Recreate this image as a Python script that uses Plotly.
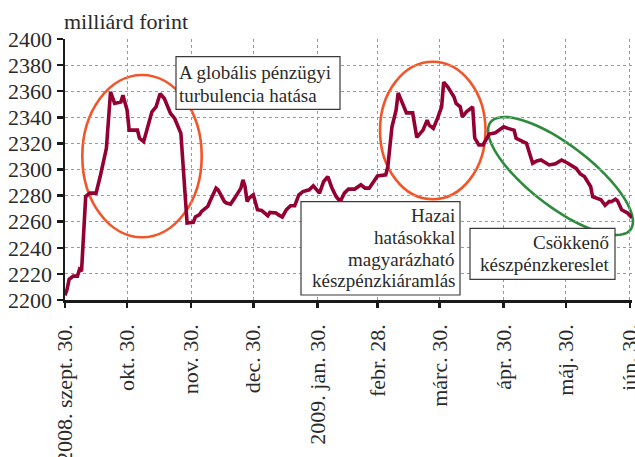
import math
import plotly.graph_objects as go

# ---------------- data ----------------
dates = [
    '2008-09-30', '2008-10-01', '2008-10-02', '2008-10-04', '2008-10-06', '2008-10-07', '2008-10-08',
    '2008-10-10', '2008-10-12', '2008-10-15', '2008-10-17', '2008-10-20', '2008-10-22', '2008-10-24',
    '2008-10-27', '2008-10-28', '2008-10-30', '2008-10-31', '2008-11-04', '2008-11-05', '2008-11-07',
    '2008-11-11', '2008-11-13', '2008-11-15', '2008-11-17', '2008-11-20', '2008-11-22', '2008-11-25',
    '2008-11-28', '2008-12-01', '2008-12-02', '2008-12-04', '2008-12-05', '2008-12-08', '2008-12-09',
    '2008-12-12', '2008-12-13', '2008-12-16', '2008-12-17', '2008-12-19', '2008-12-21', '2008-12-24',
    '2008-12-25', '2008-12-26', '2008-12-27', '2008-12-28', '2008-12-30', '2008-12-31', '2009-01-01',
    '2009-01-03', '2009-01-06', '2009-01-07', '2009-01-10', '2009-01-11', '2009-01-13', '2009-01-15',
    '2009-01-17', '2009-01-19', '2009-01-21', '2009-01-23', '2009-01-26', '2009-01-28', '2009-01-29',
    '2009-01-31', '2009-02-02', '2009-02-04', '2009-02-06', '2009-02-08', '2009-02-10', '2009-02-12',
    '2009-02-14', '2009-02-17', '2009-02-20', '2009-02-22', '2009-02-24', '2009-02-27', '2009-02-28',
    '2009-03-04', '2009-03-05', '2009-03-07', '2009-03-09', '2009-03-10', '2009-03-12', '2009-03-14',
    '2009-03-17', '2009-03-19', '2009-03-22', '2009-03-24', '2009-03-25', '2009-03-27', '2009-03-29',
    '2009-03-31', '2009-04-01', '2009-04-03', '2009-04-06', '2009-04-07', '2009-04-09', '2009-04-10',
    '2009-04-12', '2009-04-15', '2009-04-16', '2009-04-18', '2009-04-20', '2009-04-22', '2009-04-23',
    '2009-04-26', '2009-04-28', '2009-04-30', '2009-05-02', '2009-05-05', '2009-05-06', '2009-05-09',
    '2009-05-11', '2009-05-14', '2009-05-16', '2009-05-18', '2009-05-21', '2009-05-22', '2009-05-25',
    '2009-05-28', '2009-05-31', '2009-06-04', '2009-06-06', '2009-06-08', '2009-06-11', '2009-06-12',
    '2009-06-16', '2009-06-18', '2009-06-20', '2009-06-21', '2009-06-23', '2009-06-24', '2009-06-26',
    '2009-06-29', '2009-07-01',
]
values = [
    2203.6, 2208.2, 2215.8, 2218.3, 2218.3, 2223.4, 2222.1,
    2279.3, 2281.9, 2281.9, 2294.6, 2316.2, 2359.4, 2350.6,
    2351.8, 2356.9, 2345.5, 2330.2, 2330.2, 2323.9, 2321.3,
    2344.2, 2348.0, 2358.2, 2354.4, 2342.9, 2339.1, 2327.7,
    2259.0, 2259.5, 2263.6, 2265.4, 2267.9, 2271.7, 2275.5,
    2285.7, 2284.4, 2275.5, 2274.3, 2273.5, 2278.1, 2285.7,
    2292.1, 2287.0, 2275.5, 2278.1, 2280.6, 2274.3, 2269.2,
    2268.7, 2264.6, 2267.1, 2266.7, 2265.4, 2263.6, 2269.2,
    2272.2, 2272.2, 2280.6, 2283.1, 2284.4, 2287.5, 2285.7,
    2281.9, 2290.8, 2294.6, 2285.7, 2279.3, 2275.5, 2281.9,
    2285.0, 2285.0, 2288.3, 2285.7, 2285.7, 2293.4, 2295.1,
    2295.9, 2302.2, 2332.7, 2345.5, 2358.7, 2351.8, 2343.4,
    2343.4, 2324.6, 2330.2, 2337.8, 2334.0, 2331.5, 2339.1,
    2348.0, 2367.0, 2363.2, 2355.6, 2350.6, 2348.0, 2340.4,
    2344.2, 2348.0, 2324.1, 2318.8, 2318.8, 2323.9, 2327.2,
    2328.1, 2330.7, 2332.7, 2331.5, 2330.2, 2323.9, 2321.8,
    2320.1, 2304.8, 2306.6, 2307.3, 2305.0, 2303.5, 2304.3,
    2307.3, 2304.8, 2300.8, 2296.6, 2294.6, 2287.0, 2279.1,
    2276.8, 2272.6, 2275.5, 2275.3, 2277.2, 2276.0, 2269.2,
    2266.5, 2263.0,
]

tick_dates = ['2008-09-30', '2008-10-30', '2008-11-30', '2008-12-30', '2009-01-30',
              '2009-02-28', '2009-03-30', '2009-04-30', '2009-05-30', '2009-06-30']
tick_labels = ['2008. szept. 30.', 'okt. 30.', 'nov. 30.', 'dec. 30.', '2009. jan. 30.',
               'febr. 28.', 'márc. 30.', 'ápr. 30.', 'máj. 30.', 'jún. 30.']
y_ticks = [2200, 2220, 2240, 2260, 2280, 2300, 2320, 2340, 2360, 2380, 2400]

unit_label = 'milliárd forint'
box1_lines = ['A globális pénzügyi', 'turbulencia hatása']
box2_lines = ['Hazai', 'hatásokkal', 'magyarázható', 'készpénzkiáramlás']
box3_lines = ['Csökkenő', 'készpénzkereslet']

# ---------------- layout geometry ----------------
W, H = 635, 457
PLOT_L, PLOT_T, PLOT_W, PLOT_H = 65, 39, 567, 261   # window pixels
ML = PLOT_L
MT = PLOT_T
MR = W - ML - PLOT_W
MB = H - MT - PLOT_H
FONT = 'Liberation Serif'
TEXT = '#2a2a2a'
LINE_RED = '#940032'
ORANGE = '#F0562A'
GREEN = '#2E8B3E'


def fx(px):
    return (px - PLOT_L) / PLOT_W


def fy(py):
    return (PLOT_T + PLOT_H - py) / PLOT_H


def ellipse_path(cx, cy, a, b, deg, n=90):
    th = math.radians(deg)
    pts = []
    for i in range(n):
        t = 2 * math.pi * i / n
        x = cx + a * math.cos(t) * math.cos(th) - b * math.sin(t) * math.sin(th)
        y = cy + a * math.cos(t) * math.sin(th) + b * math.sin(t) * math.cos(th)
        pts.append(f'{fx(x):.5f},{fy(y):.5f}')
    return 'M ' + ' L '.join(pts) + ' Z'


fig = go.Figure()
fig.add_trace(go.Scatter(
    x=dates, y=values, mode='lines',
    line=dict(color=LINE_RED, width=3.6),
    hoverinfo='skip', showlegend=False,
))

shapes = []
shapes.append(dict(type='circle', xref='paper', yref='paper',
                   x0=fx(82.3), x1=fx(201.7), y0=fy(237.3), y1=fy(75),
                   line=dict(color=ORANGE, width=2.6), layer='between'))
shapes.append(dict(type='circle', xref='paper', yref='paper',
                   x0=fx(380), x1=fx(485.5), y0=fy(199.3), y1=fy(61.7),
                   line=dict(color=ORANGE, width=2.6), layer='between'))
shapes.append(dict(type='path', xref='paper', yref='paper',
                   path=ellipse_path(560.5, 176, 88.2, 30.8, 37.5),
                   line=dict(color=GREEN, width=2.6), layer='between'))

boxes = [(176, 56.7, 340, 109.3), (301, 201.7, 460, 295), (470, 228.3, 615, 279.3)]
for (x0, y0, x1, y1) in boxes:
    shapes.append(dict(type='rect', xref='paper', yref='paper',
                       x0=fx(x0), x1=fx(x1), y0=fy(y1), y1=fy(y0),
                       fillcolor='white', line=dict(color='#3a3a3a', width=1.2),
                       layer='above'))

annotations = []


def add_lines(lines, x, y_first, step, anchor):
    for i, t in enumerate(lines):
        annotations.append(dict(
            text=t, xref='paper', yref='paper', x=fx(x), y=fy(y_first + i * step),
            xanchor=anchor, yanchor='middle', showarrow=False,
            font=dict(family=FONT, size=19, color=TEXT),
        ))


add_lines(box1_lines, 177, 72.5, 22.5, 'left')
add_lines(box2_lines, 457, 215.5, 21.8, 'right')
add_lines(box3_lines, 611, 242, 22.3, 'right')

annotations.append(dict(
    text=unit_label, xref='paper', yref='paper', x=fx(62), y=fy(22),
    xanchor='left', yanchor='middle', showarrow=False,
    font=dict(family=FONT, size=22, color=TEXT),
))

axis_common = dict(
    showgrid=True, gridcolor='#9a9a9a', griddash='dot', gridwidth=1,
    showline=True, linecolor='#1a1a1a', linewidth=2.5,
    ticks='outside', tickcolor='#1a1a1a', tickwidth=2.5,
    tickfont=dict(family=FONT, size=22, color=TEXT),
    zeroline=False, automargin=False, ticklabeloverflow='allow',
)

fig.update_layout(
    width=W, height=H,
    margin=dict(l=ML, r=MR, t=MT, b=MB),
    paper_bgcolor='white', plot_bgcolor='white',
    xaxis=dict(type='date', range=['2008-09-30', '2009-07-01'],
               tickmode='array', tickvals=tick_dates, ticktext=tick_labels,
               tickangle=-90, ticklen=5, ticklabelstandoff=8, **axis_common),
    yaxis=dict(range=[2200, 2400], tickmode='array', tickvals=y_ticks,
               ticklen=6, **axis_common),
    shapes=shapes, annotations=annotations,
    showlegend=False,
)

fig.write_html(
    'out.html',
    config={'displayModeBar': False, 'staticPlot': True},
    post_script="document.body.style.margin='0';document.body.style.overflow='hidden';"
                "document.documentElement.style.overflow='hidden';",
)
